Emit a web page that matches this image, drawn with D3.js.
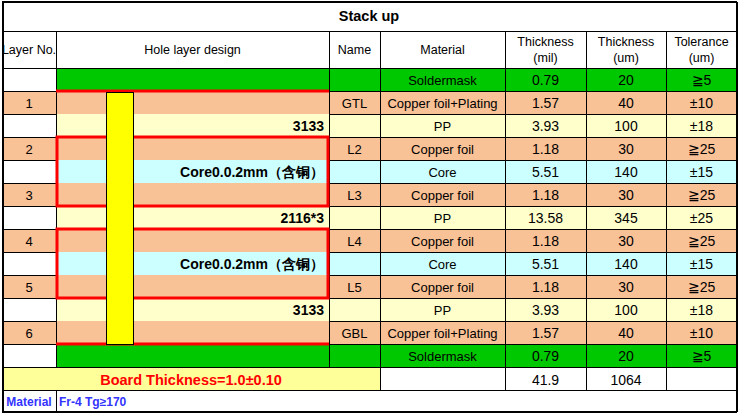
<!DOCTYPE html><html><head><meta charset="utf-8"><script src="https://cdn.jsdelivr.net/npm/d3@7"></script>
<style>body{margin:0;background:#fff}text{font-family:"Liberation Sans",Arial,sans-serif}</style></head><body><svg id="c" width="739" height="414"></svg>
<script>
const layerNo=["","1","","2","","3","","4","","5","","6",""];
const holeLabel=["","","3133","","Core0.0.2mm（含铜）","","2116*3","","Core0.0.2mm（含铜）","","3133","",""];
const names=["","GTL","","L2","","L3","","L4","","L5","","GBL",""];
const materials=["Soldermask","Copper foil+Plating","PP","Copper foil","Core","Copper foil","PP","Copper foil","Core","Copper foil","PP","Copper foil+Plating","Soldermask"];
const thickMil=[0.79,1.57,3.93,1.18,5.51,1.18,13.58,1.18,5.51,1.18,3.93,1.57,0.79];
const thickUm=[20,40,100,30,140,30,345,30,140,30,100,40,20];
const tolerance=["≧5","±10","±18","≧25","±15","≧25","±25","≧25","±15","≧25","±18","±10","≧5"];
const headers=["Layer No.","Hole layer design","Name","Material","Thickness|(mil)","Thickness|(um)","Tolerance|(um)"];
const totals=["41.9","1064"];
const colX=[2,56,329,380,505,586,666,737];
const colors={Soldermask:"#00c800","Copper foil+Plating":"#f9c196","Copper foil":"#f9c196",PP:"#ffffcc",Core:"#ccffff"};
const svg=d3.select("#c");
const idx=d3.range(materials.length);
const y=d3.scaleBand().domain(idx).range([68,367]);
const rh=y.bandwidth();
const g=svg.append("g");
idx.forEach(i=>{
 const c=colors[materials[i]];
 const isCu=materials[i].startsWith("Copper");
 g.append("rect").attr("x",colX[0]).attr("y",y(i)).attr("width",colX[1]-colX[0]).attr("height",rh).attr("fill",isCu?c:"#fff");
 g.append("rect").attr("x",colX[1]).attr("y",y(i)).attr("width",colX[7]-colX[1]).attr("height",rh).attr("fill",c);
});
g.append("rect").attr("x",colX[0]).attr("y",367).attr("width",colX[3]-colX[0]).attr("height",23).attr("fill","#ffff99");
const line=(x1,y1,x2,y2,col="#000",w=1)=>g.append("line").attr("x1",x1).attr("y1",y1).attr("x2",x2).attr("y2",y2).attr("stroke",col).attr("stroke-width",w);
[2,31,68,367,390,412].forEach(v=>line(colX[0],v+.5,colX[7],v+.5));
idx.forEach(i=>{[[0,1],[2,7]].forEach(([a,b])=>line(colX[a],y(i)+.5,colX[b],y(i)+.5));});
colX.forEach((x,k)=>{line(x+.5,k==0||k==7?2:31,x+.5,k==0||k==7?412:367);});
[3,4,5,6].forEach(k=>line(colX[k]+.5,367,colX[k]+.5,390));
line(colX[1]+.5,390,colX[1]+.5,412);
line(colX[0]+1,2,colX[0]+1,412,"#000",2);line(colX[7],2,colX[7],412,"#000",2);line(2,412,737,412,"#000",2);line(2,2,737,2,"#000",2);
const red="#ff0000";
line(colX[1],y(1),colX[2],y(1),red,3);
line(colX[1],y(12),colX[2],y(12),red,3);
[[3,5],[7,9]].forEach(([a,b])=>g.append("rect").attr("x",colX[1]+1).attr("y",y(a)).attr("width",colX[2]-colX[1]-2).attr("height",y(b)+rh-y(a)).attr("fill","none").attr("stroke",red).attr("stroke-width",3));
g.append("rect").attr("x",106.5).attr("y",y(1)+1.5).attr("width",27).attr("height",y(12)-y(1)-1).attr("fill","#ffff00").attr("stroke","#000");
const txt=(x,yy,s,o={})=>g.append("text").attr("x",x).attr("y",yy).attr("text-anchor",o.a||"middle").attr("font-size",o.fs||12).attr("font-weight",o.b?"bold":"normal").attr("fill",o.c||"#000").text(s);
txt(369,21,"Stack up",{fs:14.5,b:1});
headers.forEach((h,k)=>{const cx=(colX[k]+colX[k+1])/2;const p=h.split("|");
 if(p.length==1)txt(cx,54,p[0],{fs:12.5});else{txt(cx,46,p[0],{fs:12.5});txt(cx,62,p[1],{fs:12.5});}});
idx.forEach(i=>{const ty=y(i)+rh/2+5;
 const vals=[layerNo[i],null,names[i],materials[i],thickMil[i].toFixed(2),thickUm[i],tolerance[i]];
 vals.forEach((v,k)=>{if(v!==null&&v!=="")txt((colX[k]+colX[k+1])/2,ty,v,{fs:k>=4?14:13});});
 if(holeLabel[i])txt(324,ty,holeLabel[i],{a:"end",b:1,fs:14});
});
txt(191,385,"Board Thickness=1.0±0.10",{b:1,c:"#ff0000",fs:14.5});
txt((colX[4]+colX[5])/2,385,totals[0],{fs:14});txt((colX[5]+colX[6])/2,385,totals[1],{fs:14});
txt(29,406,"Material",{b:1,c:"#3333ff"});txt(59,406,"Fr-4  Tg≥170",{a:"start",b:1,c:"#3333ff"});
</script></body></html>
